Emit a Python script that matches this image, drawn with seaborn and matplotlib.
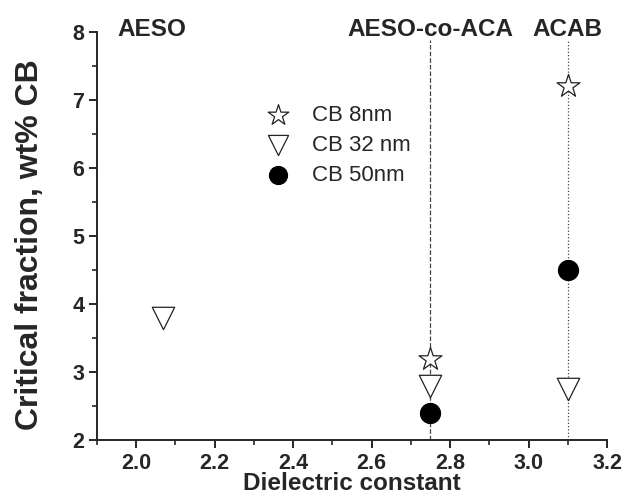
import pandas as pd
import seaborn as sns
import matplotlib.pyplot as plt
from matplotlib.ticker import MultipleLocator

# data
polymers = ["AESO", "AESO-co-ACA", "ACAB"]
polymer_eps = [2.04, 2.75, 3.10]

cb8_eps = [2.75, 3.10]
cb8_frac = [3.2, 7.2]
cb32_eps = [2.07, 2.75, 3.10]
cb32_frac = [3.8, 2.8, 2.75]
cb50_eps = [2.75, 3.10]
cb50_frac = [2.4, 4.5]

guide_eps = [2.75, 3.10]
guide_styles = ["--", ":"]

x_ticks = [2.0, 2.2, 2.4, 2.6, 2.8, 3.0, 3.2]
y_ticks = [2, 3, 4, 5, 6, 7, 8]

sns.set_style("ticks")
plt.rcParams["font.family"] = ["Liberation Sans", "DejaVu Sans"]
plt.rcParams["font.weight"] = "bold"

fig = plt.figure(figsize=(6.24, 4.97), dpi=100)
ax = fig.add_axes([0.155, 0.114, 0.818, 0.822])

for x, ls in zip(guide_eps, guide_styles):
    ax.plot([x, x], [2.0, 7.88], color="#444444", lw=0.9, ls=ls, zorder=1)

tabela8 = pd.DataFrame({"eps": cb8_eps, "frac": cb8_frac})
tabela32 = pd.DataFrame({"eps": cb32_eps, "frac": cb32_frac})
tabela50 = pd.DataFrame({"eps": cb50_eps, "frac": cb50_frac})

sns.scatterplot(data=tabela8, x="eps", y="frac", marker="*", s=300,
                facecolor="white", edgecolor="#222222", linewidth=0.9,
                label="CB 8nm", ax=ax, zorder=3)
sns.scatterplot(data=tabela32, x="eps", y="frac", marker="v", s=260,
                facecolor="white", edgecolor="#222222", linewidth=0.9,
                label="CB 32 nm", ax=ax, zorder=3)
sns.scatterplot(data=tabela50, x="eps", y="frac", marker="o", s=210,
                facecolor="black", edgecolor="black", linewidth=0.8,
                label="CB 50nm", ax=ax, zorder=3)

for name, x in zip(polymers, polymer_eps):
    ax.text(x, 8.03, name, ha="center", va="center", fontsize=17.5,
            fontweight="bold", clip_on=False)

ax.set_xlim(1.9, 3.2)
ax.set_ylim(2, 8)
ax.set_xticks(x_ticks, ["%.1f" % v for v in x_ticks])
ax.set_yticks(y_ticks, [str(v) for v in y_ticks])
ax.xaxis.set_minor_locator(MultipleLocator(0.1))
ax.yaxis.set_minor_locator(MultipleLocator(0.5))
ax.tick_params(which="major", direction="out", length=6, width=1.4,
               labelsize=15.5, pad=3)
ax.tick_params(which="minor", direction="out", length=3.5, width=1.2)

sns.despine(ax=ax)
for sp in ["left", "bottom"]:
    ax.spines[sp].set_linewidth(1.4)

ax.set_xlabel("Dielectric constant", fontsize=17.5, fontweight="bold")
ax.xaxis.set_label_coords(0.5, -0.078)
ax.xaxis.label.set_va("top")
ax.set_ylabel("Critical fraction, wt% CB", fontsize=23, fontweight="bold")
ax.yaxis.set_label_coords(-0.102, 0.48)

ax.legend(loc="upper left", bbox_to_anchor=(0.273, 0.87), frameon=False,
          prop={"size": 16, "weight": "normal"}, handletextpad=0.5,
          labelspacing=0.4, markerscale=0.9)

plt.savefig("out.png", dpi=100)
